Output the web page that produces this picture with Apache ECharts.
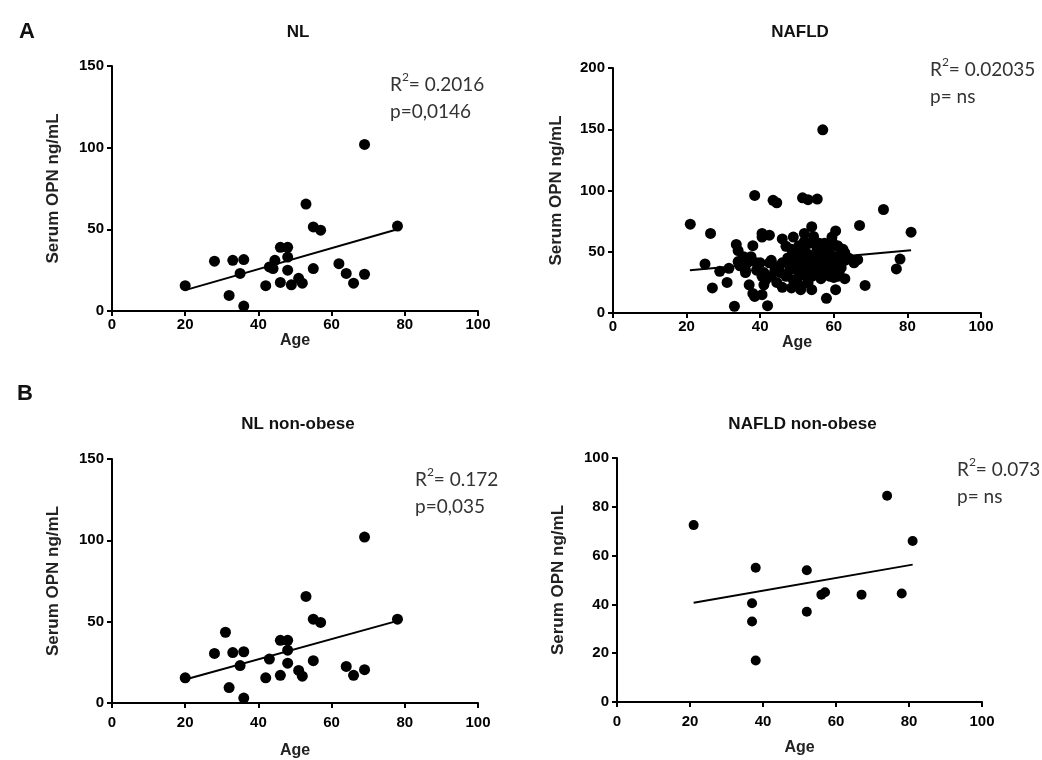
<!DOCTYPE html>
<html>
<head>
<meta charset="utf-8">
<title>Serum OPN vs Age</title>
<script src="https://cdn.jsdelivr.net/npm/echarts@6/dist/echarts.min.js"></script>
<style>
  html, body { margin: 0; padding: 0; background: #fff; }
  #chart { width: 1042px; height: 760px; }
</style>
</head>
<body>
<div id="chart"></div>
<script>
// NL (all)
var nlAge = [20, 28, 32, 33, 35, 36, 36, 42, 43, 44, 44.5, 46, 46, 48, 48, 48, 49, 51, 52, 53, 55, 55, 57, 62, 64, 66, 69, 69, 78];
var nlOpn = [15.5, 30.5, 9.5, 31, 23, 31.5, 3, 15.5, 27, 26, 31, 17.5, 39, 39, 33, 25, 16, 20, 17, 65.5, 51.5, 26, 49.5, 29, 23, 17, 22.5, 102, 52];
var nlFitAge = [20, 78];
var nlFitOpn = [12.8, 50];

// NAFLD (all)
var nafldAge = [21, 25, 26.5, 27, 29, 31, 31.5, 33, 33.5, 34, 34.5, 35.5, 36, 36.5, 37, 38, 38.5, 38, 39, 38.5,
  40, 40.5, 40.5, 41, 40.5, 40.5, 42, 42.5, 42.5, 41.5, 41, 43.5, 44.5, 45, 45.5, 46, 46, 47, 48.5, 48.5,
  49, 48.5, 49, 50, 50, 51, 51, 51.5, 53, 52, 52, 52, 52.5, 53, 54, 54, 54, 54.5, 54.5, 55.5,
  55.5, 56, 56, 56.5, 57, 57, 57.5, 58, 58, 58.5, 59, 59.5, 60, 60, 60.5, 60.5, 61, 61, 61.5, 62,
  62.5, 63, 65.5, 66.5, 67, 68.5, 73.5, 77, 78, 81,
  47, 47.5, 48, 49, 50, 50, 51, 51, 52, 52.5, 53, 53, 53.5, 54, 55, 55, 56, 56.5, 57, 58,
  58, 59, 59, 60, 61, 62, 63, 63, 44, 46, 43, 39, 36, 37.5, 43, 44.5, 50.5, 51.5, 53.5, 57.5,
  59.5, 61, 62, 64, 35, 34];
var nafldOpn = [72.5, 40, 65, 20.5, 34, 25, 36.5, 5.5, 56, 51, 38.5, 46, 35, 41, 23, 55, 96, 16, 41, 13.5,
  41, 15, 30, 33, 65, 62, 6, 63.5, 41, 27, 23, 92, 90, 38, 33, 21, 60.5, 54.5, 41, 52,
  62, 20.5, 27, 35.5, 23, 19, 41, 94, 92.5, 52, 58.5, 65, 30, 24.5, 70.5, 19, 46, 35.5, 62.5, 93,
  52, 41, 57, 35.5, 149.5, 46, 57, 12, 38, 52, 30, 58.5, 46, 41, 19, 67, 54.5, 30, 34, 41,
  52, 49, 41, 43.5, 71.5, 22.5, 84.5, 36, 44, 66,
  30, 45, 35, 44, 28, 50, 33, 22, 42, 36, 28, 48, 40, 30, 44, 33, 49, 28, 38, 44,
  33, 48, 36, 29, 45, 37, 28, 43, 35, 41, 43, 35, 33, 46, 30, 25, 55, 47, 57, 53,
  62, 55, 50.5, 45, 40, 42];
var nafldFitAge = [20.9, 81];
var nafldFitOpn = [34.8, 51.2];

// NL non-obese
var nlnoAge = [20, 28, 31, 32, 33, 35, 36, 36, 42, 43, 46, 46, 48, 48, 48, 51, 52, 53, 55, 55, 57, 64, 66, 69, 69, 78];
var nlnoOpn = [15.5, 30.5, 43.5, 9.5, 31, 23, 31.5, 3, 15.5, 27, 17, 38.5, 38.5, 32.5, 24.5, 20, 16.5, 65.5, 51.5, 26, 49.5, 22.5, 17, 20.5, 102, 51.5];
var nlnoFitAge = [20, 78];
var nlnoFitOpn = [14.5, 50.5];

// NAFLD non-obese
var nafldnoAge = [21, 37, 37, 38, 38, 52, 52, 56, 57, 67, 74, 78, 81];
var nafldnoOpn = [72.5, 40.5, 33, 55, 17, 54, 37, 44, 45, 44, 84.5, 44.5, 66];
var nafldnoFitAge = [21, 81];
var nafldnoFitOpn = [40.7, 56.3];

var titles = ['NL', 'NAFLD', 'NL non-obese', 'NAFLD non-obese'];
var r2Text = ['0.2016', '0.02035', '0.172', '0.073'];
var pText = ['p=0,0146', 'p= ns', 'p=0,035', 'p= ns'];
var yMax = [150, 200, 150, 100];
var yStep = [50, 50, 50, 20];

function pairs(xs, ys) {
  var out = [];
  for (var i = 0; i < xs.length; i++) {
    out.push([xs[i], ys[i]]);
  }
  return out;
}

var chart = echarts.init(document.getElementById('chart'));

var boldFont = 'Liberation Sans';

// grid boxes (pixels)
var boxes = [
  { left: 112, top: 66, width: 366, height: 245, labelMargin: 6, nameGap: 17, yNameGap: 50, titleY: 19, noteX: 385, noteY: 66 },
  { left: 613, top: 68, width: 368, height: 245, labelMargin: 6, nameGap: 17, yNameGap: 48, titleY: 19, noteX: 925, noteY: 51 },
  { left: 112, top: 459, width: 366, height: 245, labelMargin: 12, nameGap: 40, yNameGap: 50, titleY: 411, noteX: 410, noteY: 461 },
  { left: 617, top: 458, width: 365, height: 244, labelMargin: 12, nameGap: 38, yNameGap: 50, titleY: 411, noteX: 952, noteY: 451 }
];

var scatterData = [pairs(nlAge, nlOpn), pairs(nafldAge, nafldOpn), pairs(nlnoAge, nlnoOpn), pairs(nafldnoAge, nafldnoOpn)];
var fitData = [pairs(nlFitAge, nlFitOpn), pairs(nafldFitAge, nafldFitOpn), pairs(nlnoFitAge, nlnoFitOpn), pairs(nafldnoFitAge, nafldnoFitOpn)];
var dotSize = [11, 11, 11, 10];

var grids = [], xAxes = [], yAxes = [], series = [], titleList = [];

boxes.forEach(function (b, i) {
  grids.push({ left: b.left, top: b.top, width: b.width, height: b.height });

  xAxes.push({
    gridIndex: i, type: 'value', min: 0, max: 100, interval: 20,
    name: 'Age', nameLocation: 'middle', nameGap: b.nameGap,
    nameTextStyle: { fontFamily: boldFont, fontWeight: 'bold', fontSize: 16, color: '#222' },
    axisLine: { onZero: false, lineStyle: { color: '#000', width: 2 } },
    axisTick: { length: 5, lineStyle: { color: '#000', width: 2 } },
    axisLabel: { margin: b.labelMargin, fontFamily: boldFont, fontWeight: 'bold', fontSize: 15, color: '#000' },
    splitLine: { show: false }
  });

  yAxes.push({
    gridIndex: i, type: 'value', min: 0, max: yMax[i], interval: yStep[i],
    name: 'Serum OPN ng/mL', nameLocation: 'middle', nameGap: b.yNameGap,
    nameTextStyle: { fontFamily: boldFont, fontWeight: 'bold', fontSize: 17, color: '#222' },
    axisLine: { show: true, onZero: false, lineStyle: { color: '#000', width: 2 } },
    axisTick: { show: true, length: 5, lineStyle: { color: '#000', width: 2 } },
    axisLabel: { margin: 8, fontFamily: boldFont, fontWeight: 'bold', fontSize: 15, color: '#000' },
    splitLine: { show: false }
  });

  series.push({
    type: 'scatter', xAxisIndex: i, yAxisIndex: i,
    data: scatterData[i], symbolSize: dotSize[i],
    itemStyle: { color: '#000', opacity: 1 },
    silent: true
  });

  series.push({
    type: 'line', xAxisIndex: i, yAxisIndex: i,
    data: fitData[i], showSymbol: false, symbol: 'none',
    lineStyle: { color: '#000', width: 2 },
    silent: true, z: 3
  });

  titleList.push({
    text: titles[i], left: b.left + b.width / 2 - 2, top: b.titleY, textAlign: 'center',
    textStyle: { fontFamily: boldFont, fontWeight: 'bold', fontSize: 17, color: '#111' }
  });

  titleList.push({
    text: '{t|R}{s|2}{t|= ' + r2Text[i] + '}\n{t|' + pText[i] + '}',
    left: b.noteX, top: b.noteY,
    textStyle: {
      fontWeight: 'normal',
      rich: {
        t: { fontFamily: 'Lato', fontWeight: 'normal', fontSize: 19, color: '#333', lineHeight: 27 },
        s: { fontFamily: 'Lato', fontWeight: 'normal', fontSize: 12, color: '#333', verticalAlign: 'top', lineHeight: 27, padding: [0, 0, 4, 0] }
      }
    }
  });
});

titleList.push({ text: 'A', left: 14, top: 16, textStyle: { fontFamily: boldFont, fontWeight: 'bold', fontSize: 22, color: '#111' } });
titleList.push({ text: 'B', left: 12, top: 378, textStyle: { fontFamily: boldFont, fontWeight: 'bold', fontSize: 22, color: '#111' } });

var option = {
  animation: false,
  backgroundColor: '#fff',
  title: titleList,
  grid: grids,
  xAxis: xAxes,
  yAxis: yAxes,
  series: series
};

chart.setOption(option);
</script>
</body>
</html>
